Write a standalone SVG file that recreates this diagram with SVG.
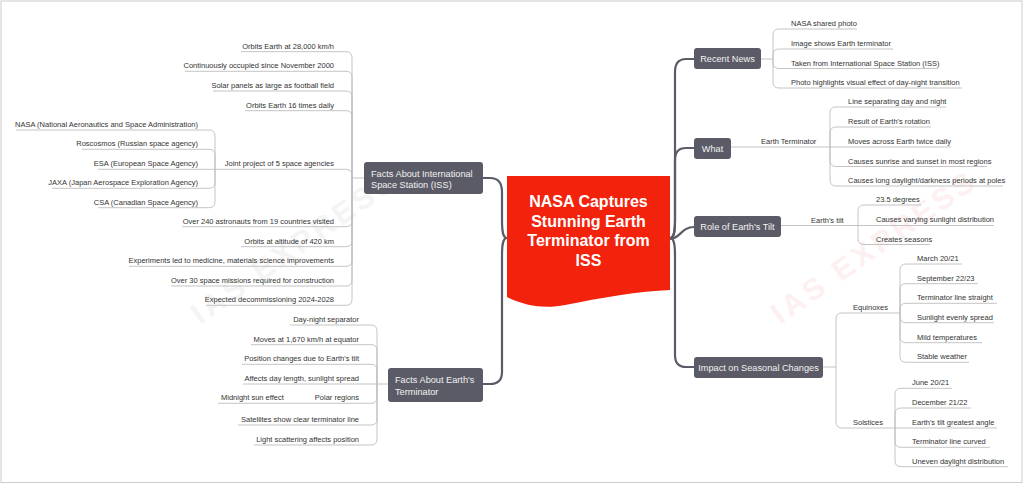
<svg xmlns="http://www.w3.org/2000/svg" width="1024" height="484" viewBox="0 0 1024 484">
<style>
.t{font-family:'Liberation Sans',Arial,sans-serif;font-size:7.5px;fill:#333}
.r{text-anchor:end}
.n{font-family:'Liberation Sans',Arial,sans-serif;font-size:9.2px;fill:#f2f2f2}
.c{text-anchor:middle}
.box{fill:#5b5b67}
.l{fill:none;stroke:#bdbdbd;stroke-width:0.9}
.m{fill:none;stroke:#5b5b67;stroke-width:2.2;stroke-linecap:round}
.wm{font-family:'Liberation Sans',Arial,sans-serif;font-weight:bold;font-size:30px;letter-spacing:4px}
.ct{font-family:'Liberation Sans',Arial,sans-serif;font-weight:bold;font-size:16px;fill:#fff;text-anchor:middle}
</style>
<rect x="0" y="0" width="1024" height="484" fill="#fff"/>
<rect x="1" y="1" width="1021" height="481.5" fill="none" stroke="#cccccc" stroke-width="1"/>
<g id="watermarks">
<text class="wm" x="300" y="255" text-anchor="middle" fill="#f4f4f4" transform="rotate(-35 300 255)">IAS EXPRESS</text>
<text class="wm" x="880" y="255" text-anchor="middle" fill="#fcf0f0" transform="rotate(-35 880 255)">IAS EXPRESS</text>
</g>
<g id="connectors">
<path class="m" d="M670,238 C674,238 675,232 675,220 L675,72 C675,63 679,59 686,59 L694,59"/>
<path class="m" d="M670,238 C674,238 675,232 675,220 L675,160 C675,151 679,148 686,148 L694,148"/>
<path class="m" d="M670,239 C680,239 681,227 694,227"/>
<path class="m" d="M670,238 C674,238 675,244 675,256 L675,355 C675,363 679,367 686,367 L694,367"/>
<path class="m" d="M507,238 C503,238 502,232 502,220 L502,192 C502,183 498,178 490,178 L483,178"/>
<path class="m" d="M507,238 C503,238 502,244 502,256 L502,372 C502,380 498,384 490,384 L483,384"/>
<path class="l" d="M761,59 H773 M773,59 V35 Q773,29 779,29 H857 M773,59 V55 Q773,49 779,49 H893 M773,59 V62.5 Q773,68.5 779,68.5 H938 M773,59 V82 Q773,88 779,88 H962"/>
<path class="l" d="M731,147 H830 M830,147 V113 Q830,107 836,107 H946 M830,147 V133 Q830,127 836,127 H931 M830,147 H951 M830,147 V160.5 Q830,166.5 836,166.5 H987 M830,147 V180 Q830,186 836,186 H1003"/>
<path class="l" d="M781,225.5 H858 M858,225.5 V211 Q858,205 864,205 H921 M858,225.5 H994 M858,225.5 V238.5 Q858,244.5 864,244.5 H930"/>
<path class="l" d="M823,367 H836 M836,367 V319 Q836,313 842,313 H900 M836,367 V422 Q836,428 842,428 H895"/>
<path class="l" d="M900,313 V270 Q900,264 906,264 H962 M900,313 V289.7 Q900,283.7 906,283.7 H978 M900,313 V309.3 Q900,303.3 906,303.3 H997 M900,313 V316.7 Q900,322.7 906,322.7 H994 M900,313 V336.7 Q900,342.7 906,342.7 H982 M900,313 V356.3 Q900,362.3 906,362.3 H969"/>
<path class="l" d="M895,428 V394.3 Q895,388.3 901,388.3 H952 M895,428 V414 Q895,408 901,408 H971 M895,428 H997 M895,428 V441.3 Q895,447.3 901,447.3 H990 M895,428 V460.7 Q895,466.7 901,466.7 H1008"/>
<path class="l" d="M364,178 H352 M352,178 V57.7 Q352,51.7 346,51.7 H241 M352,178 V77.3 Q352,71.3 346,71.3 H185 M352,178 V97 Q352,91 346,91 H213 M352,178 V116.7 Q352,110.7 346,110.7 H245 M352,178 V175.3 Q352,169.3 346,169.3 H215 M352,178 V220.7 Q352,226.7 346,226.7 H182 M352,178 V240.7 Q352,246.7 346,246.7 H241 M352,178 V260.3 Q352,266.3 346,266.3 H129 M352,178 V280 Q352,286 346,286 H171 M352,178 V299.3 Q352,305.3 346,305.3 H206"/>
<path class="l" d="M215,169.3 V136 Q215,130 209,130 H16 M215,169.3 V155.3 Q215,149.3 209,149.3 H82 M215,169.3 H98 M215,169.3 V182.3 Q215,188.3 209,188.3 H52 M215,169.3 V201.7 Q215,207.7 209,207.7 H98"/>
<path class="l" d="M388,384 H377 M377,384 V331 Q377,325 371,325 H290 M377,384 V350.7 Q377,344.7 371,344.7 H251 M377,384 V370.3 Q377,364.3 371,364.3 H242 M377,384 H243 M377,384 V397.3 Q377,403.3 371,403.3 H218 M377,384 V419 Q377,425 371,425 H238 M377,384 V439 Q377,445 371,445 H254"/>
</g>
<g id="center">
<path d="M507,176 H670 V290 C640,291 600,298 565,305 C545,309 525,306 507,297 Z" fill="#f3220c"/>
<text class="ct" x="588.5" y="207">NASA Captures</text>
<text class="ct" x="588.5" y="226.5">Stunning Earth</text>
<text class="ct" x="588.5" y="246">Terminator from</text>
<text class="ct" x="588.5" y="265.5">ISS</text>
</g>
<g id="recent-news">
<rect class="box" x="694" y="48" width="67" height="21" rx="3"/>
<text class="n c" x="727.5" y="62">Recent News</text>
<text class="t" x="791" y="26">NASA shared photo</text>
<text class="t" x="791" y="46">Image shows Earth terminator</text>
<text class="t" x="791" y="65.5">Taken from International Space Station (ISS)</text>
<text class="t" x="791" y="85">Photo highlights visual effect of day-night transition</text>
</g>
<g id="what">
<rect class="box" x="694" y="138" width="37" height="21" rx="3"/>
<text class="n c" x="712.5" y="151.5">What</text>
<text class="t" x="761" y="144">Earth Terminator</text>
<text class="t" x="848" y="104">Line separating day and night</text>
<text class="t" x="848" y="124">Result of Earth's rotation</text>
<text class="t" x="848" y="144">Moves across Earth twice daily</text>
<text class="t" x="848" y="163.5">Causes sunrise and sunset in most regions</text>
<text class="t" x="848" y="183">Causes long daylight/darkness periods at poles</text>
</g>
<g id="role-tilt">
<rect class="box" x="694" y="216" width="87" height="21" rx="3"/>
<text class="n c" x="737.5" y="229.5">Role of Earth's Tilt</text>
<text class="t" x="811" y="222.5">Earth's tilt</text>
<text class="t" x="876" y="202">23.5 degrees</text>
<text class="t" x="876" y="222">Causes varying sunlight distribution</text>
<text class="t" x="876" y="241.5">Creates seasons</text>
</g>
<g id="impact">
<rect class="box" x="694" y="357" width="129" height="21" rx="3"/>
<text class="n c" x="758.5" y="370.5">Impact on Seasonal Changes</text>
<text class="t" x="853" y="310">Equinoxes</text>
<text class="t" x="917" y="261">March 20/21</text>
<text class="t" x="917" y="280.7">September 22/23</text>
<text class="t" x="917" y="300.3">Terminator line straight</text>
<text class="t" x="917" y="319.7">Sunlight evenly spread</text>
<text class="t" x="917" y="339.7">Mild temperatures</text>
<text class="t" x="917" y="359.3">Stable weather</text>
<text class="t" x="853" y="425">Solstices</text>
<text class="t" x="912" y="385.3">June 20/21</text>
<text class="t" x="912" y="405">December 21/22</text>
<text class="t" x="912" y="424.7">Earth's tilt greatest angle</text>
<text class="t" x="912" y="444.3">Terminator line curved</text>
<text class="t" x="912" y="463.7">Uneven daylight distribution</text>
</g>
<g id="iss">
<rect class="box" x="364" y="162" width="119" height="32" rx="3"/>
<text class="n" x="371" y="176.5">Facts About International</text>
<text class="n" x="371" y="187.5">Space Station (ISS)</text>
<text class="t r" x="334" y="48.7">Orbits Earth at 28,000 km/h</text>
<text class="t r" x="334" y="68.3">Continuously occupied since November 2000</text>
<text class="t r" x="334" y="88">Solar panels as large as football field</text>
<text class="t r" x="334" y="107.7">Orbits Earth 16 times daily</text>
<text class="t r" x="334" y="166.3">Joint project of 5 space agencies</text>
<text class="t r" x="198" y="127">NASA (National Aeronautics and Space Administration)</text>
<text class="t r" x="198" y="146.3">Roscosmos (Russian space agency)</text>
<text class="t r" x="198" y="166.3">ESA (European Space Agency)</text>
<text class="t r" x="198" y="185.3">JAXA (Japan Aerospace Exploration Agency)</text>
<text class="t r" x="198" y="204.7">CSA (Canadian Space Agency)</text>
<text class="t r" x="334" y="223.7">Over 240 astronauts from 19 countries visited</text>
<text class="t r" x="334" y="243.7">Orbits at altitude of 420 km</text>
<text class="t r" x="334" y="263.3">Experiments led to medicine, materials science improvements</text>
<text class="t r" x="334" y="283">Over 30 space missions required for construction</text>
<text class="t r" x="334" y="302.3">Expected decommissioning 2024-2028</text>
</g>
<g id="earth-terminator">
<rect class="box" x="388" y="368" width="95" height="34" rx="3"/>
<text class="n" x="395" y="382.5">Facts About Earth's</text>
<text class="n" x="395" y="394.5">Terminator</text>
<text class="t r" x="359" y="322">Day-night separator</text>
<text class="t r" x="359" y="341.7">Moves at 1,670 km/h at equator</text>
<text class="t r" x="359" y="361.3">Position changes due to Earth's tilt</text>
<text class="t r" x="359" y="381">Affects day length, sunlight spread</text>
<text class="t r" x="359" y="400.3">Polar regions</text>
<text class="t" x="221" y="400.3">Midnight sun effect</text>
<text class="t r" x="359" y="422">Satellites show clear terminator line</text>
<text class="t r" x="359" y="442">Light scattering affects position</text>
</g>
</svg>
